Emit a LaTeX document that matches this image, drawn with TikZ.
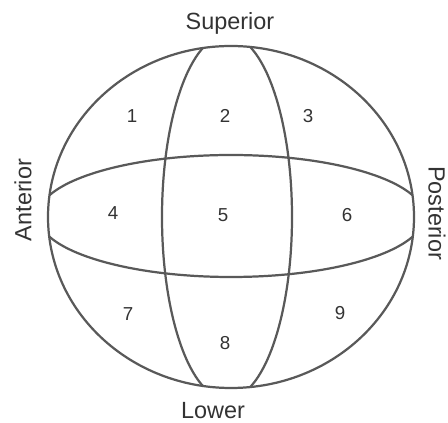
\documentclass[tikz,border=0pt]{standalone}
\usepackage{fontspec}
\setmainfont{Liberation Sans}
\usepackage{tikz}

\begin{document}
\begin{tikzpicture}[
  x=0.03cm, y=0.03cm,
  rim/.style={draw=black!65, line width=1.9pt},
  num/.style={font=\fontsize{16}{18}\selectfont, text=black!80},
  side/.style={font=\fontsize{20}{22}\selectfont, text=black!80}
]
\useasboundingbox (0,0) rectangle (448,423);

% Inner bands, cut at the outer rim
\begin{scope}
  \clip (231,206) ellipse [x radius=183, y radius=171];
  \draw[rim] (227,206) ellipse [x radius=65, y radius=182];
  \draw[rim] (231,207) ellipse [x radius=193, y radius=61];
\end{scope}

% Outer rim
\draw[rim] (231,206) ellipse [x radius=183, y radius=171];

% Region numbers
\node[num] (r1) at (132,307) {1};
\node[num] (r2) at (225,307) {2};
\node[num] (r3) at (308,307) {3};
\node[num] (r4) at (113,210) {4};
\node[num] (r5) at (223,208) {5};
\node[num] (r6) at (347,208) {6};
\node[num] (r7) at (128,109) {7};
\node[num] (r8) at (225,80) {8};
\node[num] (r9) at (340,110) {9};

% Direction labels
\node[side] (sup) at (230,400) {Superior};
\node[side] (low) at (213,12) {Lower};
\node[side, rotate=90] (ant) at (23,223) {Anterior};
\node[side, rotate=-90] (post) at (437,210) {Posterior};

\end{tikzpicture}
\end{document}
